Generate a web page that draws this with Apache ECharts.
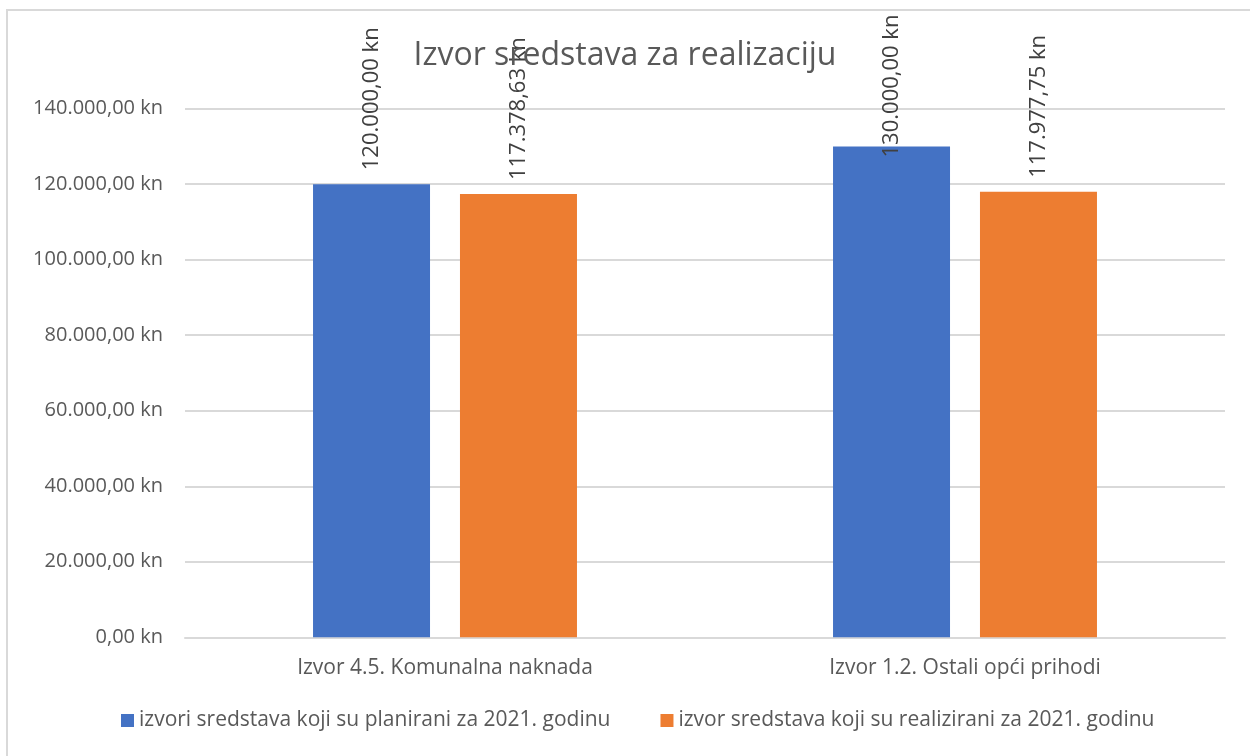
<!DOCTYPE html>
<html>
<head>
<meta charset="utf-8">
<script src="https://cdn.jsdelivr.net/npm/echarts@6/dist/echarts.min.js"></script>
<style>
html,body{margin:0;padding:0;background:#fff;}
#chart{width:1250px;height:756px;}
</style>
</head>
<body>
<div id="chart"></div>
<script>
const titleText = 'Izvor sredstava za realizaciju';
const categories = ['Izvor 4.5. Komunalna naknada', 'Izvor 1.2. Ostali opći prihodi'];
const seriesNames = ['izvori sredstava koji su planirani za 2021. godinu', 'izvor sredstava koji su realizirani za 2021. godinu'];
const planned = [120000, 130000];
const realized = [117378.63, 117977.75];
const yTicks = [0, 20000, 40000, 60000, 80000, 100000, 120000, 140000];

const FONT = '"Open Sans", "Noto Sans", sans-serif';
const TXT = '#595959';

function kn(v) {
  const parts = Number(v).toFixed(2).split('.');
  const intPart = parts[0].replace(/\B(?=(\d{3})+(?!\d))/g, '.');
  return intPart + ',' + parts[1] + ' kn';
}

const chart = echarts.init(document.getElementById('chart'), null, {renderer: 'canvas'});

const labelBase = {
  show: true,
  position: 'top',
  rotate: 90,
  align: 'left',
  verticalAlign: 'middle',
  distance: 14,
  color: '#404040',
  fontFamily: FONT,
  fontSize: 22,
  formatter: p => kn(p.value)
};

const option = {
  backgroundColor: '#ffffff',
  animation: false,
  graphic: [{
    type: 'rect',
    shape: {x: 7, y: 10, width: 1400, height: 900},
    style: {fill: 'none', stroke: '#D9D9D9', lineWidth: 2},
    silent: true,
    z: -1
  }],
  title: {
    text: titleText,
    left: 'center',
    top: 35,
    textStyle: {color: TXT, fontFamily: FONT, fontSize: 32, fontWeight: 'normal'}
  },
  legend: {
    bottom: 20,
    left: 116,
    itemWidth: 13,
    itemHeight: 13,
    itemGap: 50,
    icon: 'rect',
    textStyle: {color: TXT, fontFamily: FONT, fontSize: 21},
    data: seriesNames
  },
  grid: {left: 185, right: 25, top: 108.7, bottom: 118.7, containLabel: false},
  xAxis: {
    type: 'category',
    data: categories,
    axisLine: {show: true, lineStyle: {color: '#D9D9D9', width: 2}},
    axisTick: {show: false},
    axisLabel: {color: TXT, fontFamily: FONT, fontSize: 21, margin: 20}
  },
  yAxis: {
    type: 'value',
    min: yTicks[0],
    max: yTicks[yTicks.length - 1],
    interval: yTicks[1] - yTicks[0],
    axisLine: {show: false},
    axisTick: {show: false},
    splitLine: {lineStyle: {color: '#D9D9D9', width: 2}},
    axisLabel: {color: TXT, fontFamily: FONT, fontSize: 20, margin: 22, formatter: v => kn(v)}
  },
  series: [
    {
      name: seriesNames[0],
      type: 'bar',
      data: planned.map((v, i) => i === 1 ? {value: v, label: {offset: [-25, 0]}} : v),
      barWidth: 117,
      barGap: '25.6%',
      itemStyle: {color: '#4472C4'},
      label: labelBase,
      z: 3
    },
    {
      name: seriesNames[1],
      type: 'bar',
      data: realized,
      barWidth: 117,
      itemStyle: {color: '#ED7D31'},
      label: labelBase,
      z: 3
    }
  ]
};
chart.setOption(option);
</script>
</body>
</html>
